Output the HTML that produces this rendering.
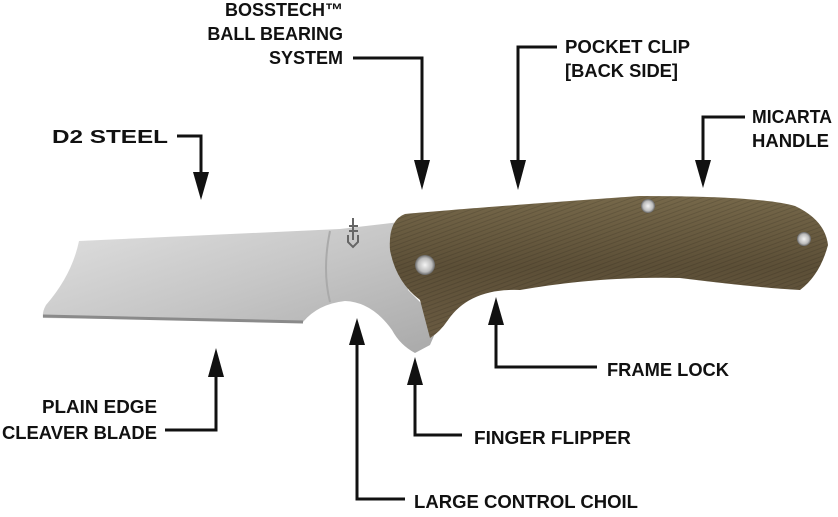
<!DOCTYPE html>
<html><head><meta charset="utf-8"><style>
html,body{margin:0;padding:0;background:#fff;}
svg{display:block;}
text{font-family:"Liberation Sans",sans-serif;font-weight:bold;font-size:18px;fill:#111;}
</style></head><body>
<svg width="838" height="517" viewBox="0 0 838 517" xmlns="http://www.w3.org/2000/svg">
<defs>
<linearGradient id="bl" x1="0" y1="0" x2="1" y2="1">
<stop offset="0" stop-color="#e0e0e0"/><stop offset="0.5" stop-color="#c6c6c6"/><stop offset="1" stop-color="#a9a9a9"/>
</linearGradient>
<linearGradient id="hd" x1="0" y1="0" x2="0" y2="1">
<stop offset="0" stop-color="#76684a"/><stop offset="0.5" stop-color="#5c4f37"/><stop offset="1" stop-color="#6a5b42"/>
</linearGradient>
<pattern id="tx" width="4" height="4" patternUnits="userSpaceOnUse" patternTransform="rotate(-20)">
<rect width="4" height="4" fill="none"/><path d="M0,2 L4,2" stroke="#000" stroke-opacity="0.12" stroke-width="1"/>
</pattern>
<radialGradient id="pin"><stop offset="0" stop-color="#f4f4f4"/><stop offset="0.7" stop-color="#bbb"/><stop offset="1" stop-color="#666"/></radialGradient>
</defs>
<!-- blade -->
<path d="M79,241 L340,229 L400,222 L408,290 L440,322 L430,345 L415,353 Q400,345 392,330 Q372,302 345,301 Q318,304 303,322 L43,318 Q42,312 46,305 Q72,275 79,241 Z" fill="url(#bl)"/>
<path d="M43,316 L303,322" stroke="#8a8a8a" stroke-width="3"/>
<path d="M330,231 Q322,270 330,302" stroke="#aaa" stroke-width="2" fill="none"/>
<!-- logo -->
<path d="M353,218 L353,240 M349,226 L358,226 M349,231 L358,231 M348,235 L348,242 L353,247 L358,242 L358,235" stroke="#666" stroke-width="2" fill="none"/>
<!-- handle -->
<path id="h" d="M405,214 Q470,208 640,196 Q760,196 795,206 Q825,220 828,245 Q820,275 800,290 Q760,288 680,278 Q600,276 520,290 Q470,288 448,320 Q440,332 430,338 L420,300 Q396,282 390,250 Q388,220 405,214 Z" fill="url(#hd)"/>
<path d="M405,214 Q470,208 640,196 Q760,196 795,206 Q825,220 828,245 Q820,275 800,290 Q760,288 680,278 Q600,276 520,290 Q470,288 448,320 Q440,332 430,338 L420,300 Q396,282 390,250 Q388,220 405,214 Z" fill="url(#tx)"/>
<circle cx="425" cy="265" r="10" fill="url(#pin)"/>
<circle cx="648" cy="206" r="7" fill="url(#pin)"/>
<circle cx="804" cy="239" r="7" fill="url(#pin)"/>
<!-- connectors -->
<g stroke="#111" stroke-width="3" fill="none">
<path d="M177,136 L201,136 L201,178"/>
<path d="M353,58 L422,58 L422,165"/>
<path d="M557,47 L518,47 L518,165"/>
<path d="M745,117 L703,117 L703,165"/>
<path d="M165,430 L216,430 L216,372"/>
<path d="M405,499 L357,499 L357,340"/>
<path d="M462,435 L415,435 L415,380"/>
<path d="M597,367 L496,367 L496,320"/>
</g>
<g fill="#111">
<polygon points="193,172 209,172 201,200"/>
<polygon points="414,160 430,160 422,190"/>
<polygon points="510,160 526,160 518,190"/>
<polygon points="695,160 711,160 703,188"/>
<polygon points="208,377 224,377 216,348"/>
<polygon points="349,345 365,345 357,318"/>
<polygon points="407,385 423,385 415,357"/>
<polygon points="488,325 504,325 496,297"/>
</g>
<!-- labels -->
<text x="52" y="143" textLength="116" lengthAdjust="spacingAndGlyphs">D2 STEEL</text>
<text x="343" y="16" text-anchor="end">BOSSTECH™</text>
<text x="343" y="40" text-anchor="end">BALL BEARING</text>
<text x="343" y="64" text-anchor="end">SYSTEM</text>
<text x="565" y="53" textLength="125" lengthAdjust="spacingAndGlyphs">POCKET CLIP</text>
<text x="565" y="77" textLength="113" lengthAdjust="spacingAndGlyphs">[BACK SIDE]</text>
<text x="752" y="123" textLength="80" lengthAdjust="spacingAndGlyphs">MICARTA</text>
<text x="752" y="147" textLength="77" lengthAdjust="spacingAndGlyphs">HANDLE</text>
<text x="42" y="413" textLength="115" lengthAdjust="spacingAndGlyphs">PLAIN EDGE</text>
<text x="2" y="439" textLength="155" lengthAdjust="spacingAndGlyphs">CLEAVER BLADE</text>
<text x="607" y="376" textLength="122" lengthAdjust="spacingAndGlyphs">FRAME LOCK</text>
<text x="474" y="444" textLength="157" lengthAdjust="spacingAndGlyphs">FINGER FLIPPER</text>
<text x="414" y="508" textLength="224" lengthAdjust="spacingAndGlyphs">LARGE CONTROL CHOIL</text>
</svg>
</body></html>
